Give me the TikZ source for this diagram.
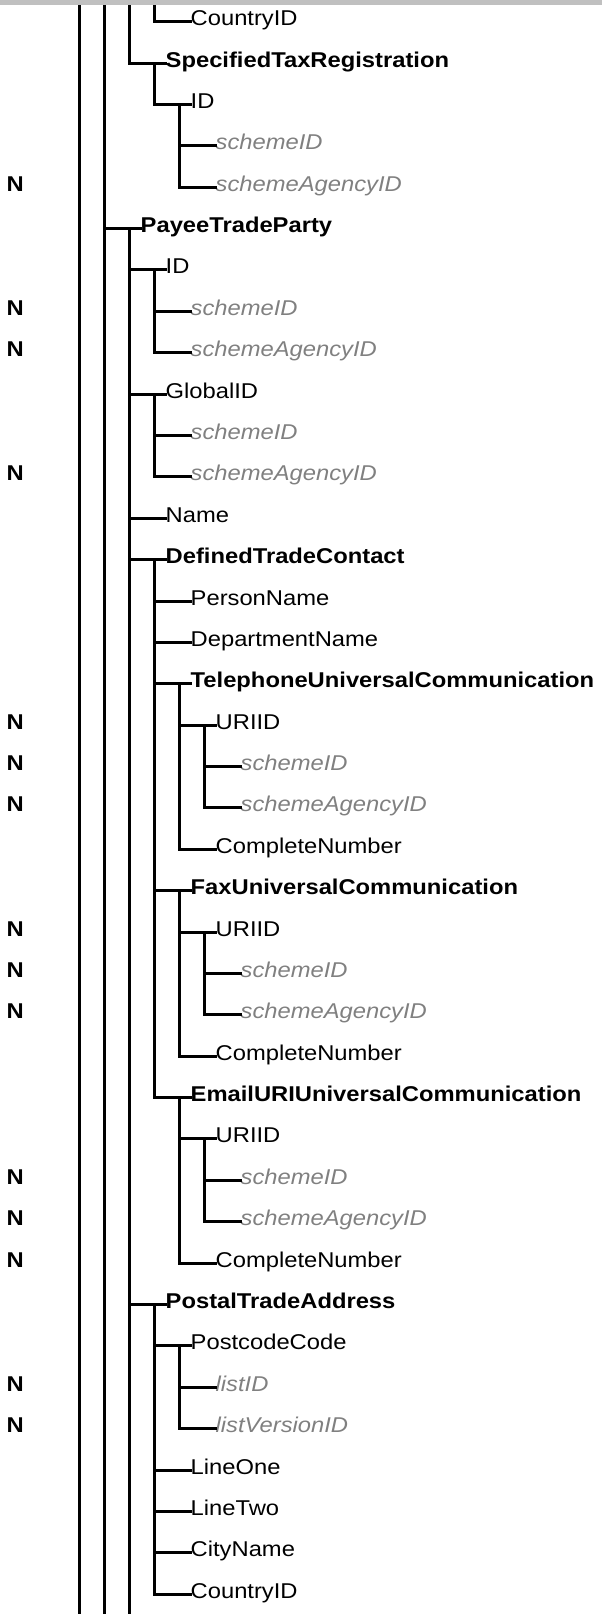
\documentclass[tikz,border=0pt]{standalone}
\usepackage{fontspec}
\setmainfont{Liberation Sans}[FakeStretch=1.11]
\definecolor{attrgray}{RGB}{128,128,128}
\definecolor{bargray}{RGB}{192,192,192}
\tikzset{
  conn/.style={line width=3pt, line cap=rect},
  lbl/.style={anchor=base west, inner sep=0pt, font=\fontsize{21.4}{25}\selectfont},
  elem/.style={lbl},
  grp/.style={lbl, font=\fontsize{21.4}{25}\selectfont\bfseries},
  attr/.style={lbl, font=\fontsize{21.4}{25}\selectfont\itshape, text=attrgray},
  nflag/.style={lbl, font=\fontsize{21.4}{25}\selectfont\bfseries},
}
% #1 name, #2 depth, #3 row, #4 style, #5 text
\newcommand\treerow[5]{%
  \coordinate (#1j) at ({79.5+25*#2},{-(21.7+41.38*#3)});
  \coordinate (#1d) at ({104.5+25*#2},{-(21.7+41.38*#3)});
  \node[#4] (#1) at ({115.5+25*#2},{-(25.7+41.38*#3)}) {#5};
  \draw[conn] (#1j) -- (#1j -| #1.base west);
}
\newcommand\nmark[1]{%
  \node[nflag] (n#1) at (6.5,{-(25.7+41.38*#1)}) {N};
}
\begin{document}
\begin{tikzpicture}[x=1pt,y=1pt]
\useasboundingbox (0,0) rectangle (602,-1614);

% rows of the tree
\treerow{r0}{3}{0}{elem}{CountryID}
\treerow{r1}{2}{1}{grp}{SpecifiedTaxRegistration}
\treerow{r2}{3}{2}{elem}{ID}
\treerow{r3}{4}{3}{attr}{schemeID}
\treerow{r4}{4}{4}{attr}{schemeAgencyID}
\treerow{r5}{1}{5}{grp}{PayeeTradeParty}
\treerow{r6}{2}{6}{elem}{ID}
\treerow{r7}{3}{7}{attr}{schemeID}
\treerow{r8}{3}{8}{attr}{schemeAgencyID}
\treerow{r9}{2}{9}{elem}{GlobalID}
\treerow{r10}{3}{10}{attr}{schemeID}
\treerow{r11}{3}{11}{attr}{schemeAgencyID}
\treerow{r12}{2}{12}{elem}{Name}
\treerow{r13}{2}{13}{grp}{DefinedTradeContact}
\treerow{r14}{3}{14}{elem}{PersonName}
\treerow{r15}{3}{15}{elem}{DepartmentName}
\treerow{r16}{3}{16}{grp}{TelephoneUniversalCommunication}
\treerow{r17}{4}{17}{elem}{URIID}
\treerow{r18}{5}{18}{attr}{schemeID}
\treerow{r19}{5}{19}{attr}{schemeAgencyID}
\treerow{r20}{4}{20}{elem}{CompleteNumber}
\treerow{r21}{3}{21}{grp}{FaxUniversalCommunication}
\treerow{r22}{4}{22}{elem}{URIID}
\treerow{r23}{5}{23}{attr}{schemeID}
\treerow{r24}{5}{24}{attr}{schemeAgencyID}
\treerow{r25}{4}{25}{elem}{CompleteNumber}
\treerow{r26}{3}{26}{grp}{EmailURIUniversalCommunication}
\treerow{r27}{4}{27}{elem}{URIID}
\treerow{r28}{5}{28}{attr}{schemeID}
\treerow{r29}{5}{29}{attr}{schemeAgencyID}
\treerow{r30}{4}{30}{elem}{CompleteNumber}
\treerow{r31}{2}{31}{grp}{PostalTradeAddress}
\treerow{r32}{3}{32}{elem}{PostcodeCode}
\treerow{r33}{4}{33}{attr}{listID}
\treerow{r34}{4}{34}{attr}{listVersionID}
\treerow{r35}{3}{35}{elem}{LineOne}
\treerow{r36}{3}{36}{elem}{LineTwo}
\treerow{r37}{3}{37}{elem}{CityName}
\treerow{r38}{3}{38}{elem}{CountryID}

% ends of the lines running off the page
\coordinate (topA) at (79.5,0);
\coordinate (topB) at (104.5,0);
\coordinate (topC) at (129.5,0);
\coordinate (topD) at (154.5,0);
\coordinate (botA) at (79.5,-1614);
\coordinate (botB) at (104.5,-1614);
\coordinate (botC) at (129.5,-1614);

% vertical branches
\draw[conn] (topA) -- (botA);
\draw[conn] (topB) -- (botB);
\draw[conn] (topC) -- (r1j);
\draw[conn] (topD) -- (r0j);
\draw[conn] (r1d) -- (r2j);
\draw[conn] (r2d) -- (r4j);
\draw[conn] (r5d) -- (botC);
\draw[conn] (r6d) -- (r8j);
\draw[conn] (r9d) -- (r11j);
\draw[conn] (r13d) -- (r26j);
\draw[conn] (r16d) -- (r20j);
\draw[conn] (r17d) -- (r19j);
\draw[conn] (r21d) -- (r25j);
\draw[conn] (r22d) -- (r24j);
\draw[conn] (r26d) -- (r30j);
\draw[conn] (r27d) -- (r29j);
\draw[conn] (r31d) -- (r38j);
\draw[conn] (r32d) -- (r34j);

% N markers
\nmark{4}
\nmark{7}
\nmark{8}
\nmark{11}
\nmark{17}
\nmark{18}
\nmark{19}
\nmark{22}
\nmark{23}
\nmark{24}
\nmark{28}
\nmark{29}
\nmark{30}
\nmark{33}
\nmark{34}

% header strip
\fill[bargray] (0,0) rectangle (602,-5);
\end{tikzpicture}
\end{document}
